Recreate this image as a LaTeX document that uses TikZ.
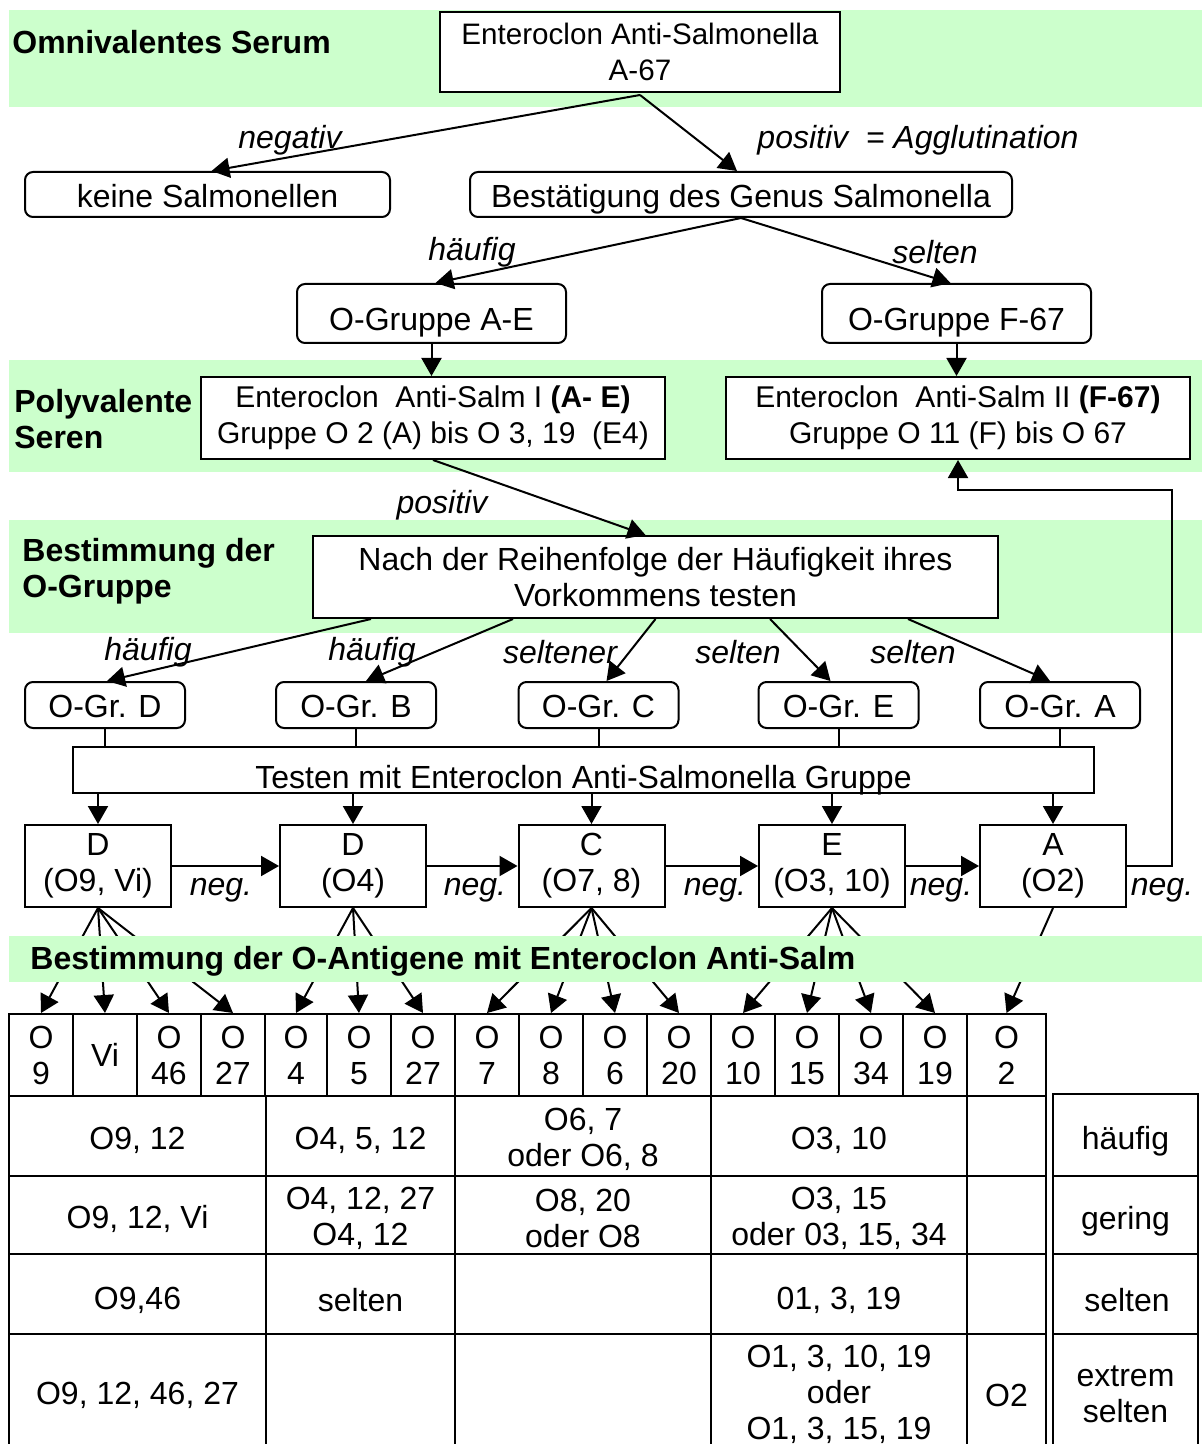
\documentclass[tikz,border=0pt]{standalone}
\usepackage{fontspec}
\setmainfont{Liberation Sans}
\usetikzlibrary{arrows.meta}
\definecolor{band}{HTML}{CCFFCC}
\begin{document}
\begin{tikzpicture}[x=0.5pt,y=-0.5pt,
 every node/.style={font=\fontsize{16}{18}\selectfont},
 box/.style={draw,line width=1pt,inner sep=0pt,align=center,fill=white},
 rbox/.style={box,rounded corners=4pt},
 low/.style={text height=#1,text depth=0pt},
 small/.style={font=\fontsize{#1}{18}\selectfont},
 lab/.style={font=\fontsize{16}{18}\selectfont\itshape,inner sep=0pt},
 head/.style={font=\fontsize{16}{18}\selectfont\bfseries,align=left,inner sep=0pt,anchor=west},
 arr/.style={line width=1pt,-{Triangle[length=9pt,width=10pt]}},
 ln/.style={line width=1pt},
 cell/.style={draw,line width=1pt,inner sep=0pt,align=center,minimum height=41pt,minimum width=32pt},
 txt/.style={inner sep=0pt,align=center}
]
\useasboundingbox (0,0) rectangle (1202,1444);
% bands
\fill[band] (9,10) rectangle (1202,107);
\fill[band] (9,360) rectangle (1202,472);
\fill[band] (9,520) rectangle (1202,633);
\node[head] (lomni) at (12,42) {Omnivalentes Serum};
\node[head] (lpoly) at (14,419) {Polyvalente\\Seren};
\node[head] (lbest) at (22,571) {Bestimmung der\\O-Gruppe};

% top
\node[box,small=14.8,minimum width=200pt,minimum height=40pt] (top) at (640,52) {Enteroclon Anti-Salmonella\\A-67};
\node[rbox,low=13.5pt,minimum width=182.5pt,minimum height=22.5pt] (keine) at (207.5,194.5) {keine Salmonellen};
\node[rbox,low=13.5pt,minimum width=271pt,minimum height=22.5pt] (best) at (741,194.5) {Bestätigung des Genus Salmonella};
\draw[arr] ([yshift=-1pt]top.south) -- ([xshift=2pt]keine.north);
\draw[arr] ([yshift=-1pt]top.south) -- ([xshift=-2pt]best.north);
\node[lab] (lneg) at (290,140) {negativ};
\node[lab] (lpos) at (918,140) {positiv\ \ = Agglutination};

\node[rbox,low=17.5pt,minimum width=134.5pt,minimum height=29.5pt] (oae) at (431.5,313.5) {O-Gruppe A-E};
\node[rbox,low=17.5pt,minimum width=134.5pt,minimum height=29.5pt] (of) at (956.5,313.5) {O-Gruppe F-67};
\draw[arr] (best.south) -- ([xshift=2pt]oae.north);
\draw[arr] (best.south) -- ([xshift=-3pt]of.north);
\node[lab] (lh1) at (472,252) {häufig};
\node[lab] (ls1) at (935,252) {selten};

\node[box,small=15,minimum width=232pt,minimum height=41pt] (as1) at (433,418) {Enteroclon\ \ Anti-Salm I \textbf{(A- E)}\\Gruppe O 2 (A) bis O 3, 19\ \ (E4)};
\node[box,small=15,minimum width=232pt,minimum height=41pt] (as2) at (958,418) {Enteroclon\ \ Anti-Salm II \textbf{(F-67)}\\Gruppe O 11 (F) bis O 67};
\draw[arr] (oae.south) -- (oae.south |- as1.north);
\draw[arr] (of.south) -- (of.south |- as2.north);

\node[box,minimum width=342.5pt,minimum height=41pt] (nach) at (655.5,577) {Nach der Reihenfolge der Häufigkeit ihres\\Vorkommens testen};
\draw[arr] (as1.south) -- ([xshift=-5pt]nach.north);
\node[lab] (lpos2) at (442,505) {positiv};

% O-Gr boxes
\node[rbox,low=12pt,minimum width=80pt,minimum height=23pt] (gD) at (105,705) {O-Gr. D};
\node[rbox,low=12pt,minimum width=80pt,minimum height=23pt] (gB) at (356,705) {O-Gr. B};
\node[rbox,low=12pt,minimum width=80pt,minimum height=23pt] (gC) at (598.5,705) {O-Gr. C};
\node[rbox,low=12pt,minimum width=80pt,minimum height=23pt] (gE) at (838.5,705) {O-Gr. E};
\node[rbox,low=12pt,minimum width=80pt,minimum height=23pt] (gA) at (1060,705) {O-Gr. A};
\draw[arr] ([xshift=-142.25pt]nach.south) -- ([xshift=1pt]gD.north);
\draw[arr] ([xshift=-71.25pt]nach.south) -- ([xshift=5pt]gB.north);
\draw[arr] (nach.south) -- ([xshift=4pt]gC.north);
\draw[arr] ([xshift=57.25pt]nach.south) -- ([xshift=-4pt]gE.north);
\draw[arr] ([xshift=126.25pt]nach.south) -- ([xshift=-5pt]gA.north);
\node[lab] (lh2) at (148,652) {häufig};
\node[lab] (lh3) at (372,652) {häufig};
\node[lab] (ls2) at (560,652) {seltener};
\node[lab] (ls3) at (738,652) {selten};
\node[lab] (ls4) at (913,652) {selten};

\node[box,low=18pt,minimum width=510.5pt,minimum height=23pt] (test) at (583.5,770) {Testen mit Enteroclon Anti-Salmonella Gruppe};
\foreach \g in {gD,gB,gC,gE,gA} \draw[ln] (\g.south) -- (\g.south |- test.north);

% result boxes
\node[box,minimum width=73pt,minimum height=41pt] (r1) at (98,866) {D\\(O9, Vi)};
\node[box,minimum width=73pt,minimum height=41pt] (r2) at (353,866) {D\\(O4)};
\node[box,minimum width=73pt,minimum height=41pt] (r3) at (591.5,866) {C\\(O7, 8)};
\node[box,minimum width=73pt,minimum height=41pt] (r4) at (832,866) {E\\(O3, 10)};
\node[box,minimum width=73pt,minimum height=41pt] (r5) at (1053,866) {A\\(O2)};
\foreach \r in {r1,r2,r3,r4,r5} \draw[arr] (test.south -| \r.north) -- (\r.north);
\draw[arr] (r1.east) -- (r2.west);
\draw[arr] (r2.east) -- (r3.west);
\draw[arr] (r3.east) -- (r4.west);
\draw[arr] (r4.east) -- (r5.west);
\node[lab] (n1) at (221,890) {neg.};
\node[lab] (n2) at (475,890) {neg.};
\node[lab] (n3) at (715,890) {neg.};
\node[lab] (n4) at (941,890) {neg.};
\node[lab] (n5) at (1162,890) {neg.};
\coordinate (fb) at (1172,490);
\draw[arr] (r5.east) -| (fb) -| (as2.south);

% header cells
\node[cell] (h1) at (41,1055) {O\\9};
\node[cell] (h2) at (105,1055) {Vi};
\node[cell] (h3) at (169,1055) {O\\46};
\node[cell] (h4) at (233,1055) {O\\27};
\node[cell,minimum width=31pt] (h5) at (296,1055) {O\\4};
\node[cell] (h6) at (359,1055) {O\\5};
\node[cell] (h7) at (423,1055) {O\\27};
\node[cell] (h8) at (487,1055) {O\\7};
\node[cell] (h9) at (551,1055) {O\\8};
\node[cell] (h10) at (615,1055) {O\\6};
\node[cell] (h11) at (679,1055) {O\\20};
\node[cell] (h12) at (743,1055) {O\\10};
\node[cell] (h13) at (807,1055) {O\\15};
\node[cell] (h14) at (871,1055) {O\\34};
\node[cell] (h15) at (935,1055) {O\\19};
\node[cell,minimum width=39.5pt] (h16) at (1006.5,1055) {O\\2};

% fan arrows
\foreach \h in {h1,h2,h3,h4} \draw[arr] (r1.south) -- (\h.north);
\foreach \h in {h5,h6,h7} \draw[arr] (r2.south) -- (\h.north);
\foreach \h in {h8,h9,h10,h11} \draw[arr] (r3.south) -- (\h.north);
\foreach \h in {h12,h13,h14,h15} \draw[arr] (r4.south) -- (\h.north);
\draw[arr] (r5.south) -- (h16.north);

\fill[band] (9,936) rectangle (1202,982);
\node[head] (lanti) at (30,961) {Bestimmung der O-Antigene mit Enteroclon Anti-Salm};

% lower table
\foreach \y in {1096,1176,1254,1334} \draw[ln] (9,\y) -- (1046,\y);
\foreach \x in {9,266,455,711,967,1046} \draw[ln] (\x,1096) -- (\x,1444);
\draw[ln] (1053,1444) -- (1053,1094) -- (1198,1094) -- (1198,1444);
\foreach \y in {1176,1254,1334} \draw[ln] (1053,\y) -- (1198,\y);

\node[txt] (t11) at (137.5,1140) {O9, 12};
\node[txt] (t12) at (360.5,1140) {O4, 5, 12};
\node[txt] (t13) at (583,1139) {O6, 7\\oder O6, 8};
\node[txt] (t14) at (839,1140) {O3, 10};
\node[txt] (s1) at (1125.5,1141) {häufig};
\node[txt] (t21) at (137.5,1219) {O9, 12, Vi};
\node[txt] (t22) at (360.5,1218) {O4, 12, 27\\O4, 12};
\node[txt] (t23) at (583,1218) {O8, 20\\oder O8};
\node[txt] (t24) at (839,1218) {O3, 15\\oder 03, 15, 34};
\node[txt] (s2) at (1125.5,1221) {gering};
\node[txt] (t31) at (137.5,1300) {O9,46};
\node[txt] (t32) at (360.5,1300) {selten};
\node[txt] (t34) at (839,1300) {01, 3, 19};
\node[txt] (s3) at (1127,1300) {selten};
\node[txt] (t41) at (137.5,1395) {O9, 12, 46, 27};
\node[txt] (t44) at (839,1394) {O1, 3, 10, 19\\oder\\O1, 3, 15, 19};
\node[txt] (t45) at (1006.5,1395) {O2};
\node[txt] (s4) at (1125.5,1394) {extrem\\selten};
\end{tikzpicture}
\end{document}
